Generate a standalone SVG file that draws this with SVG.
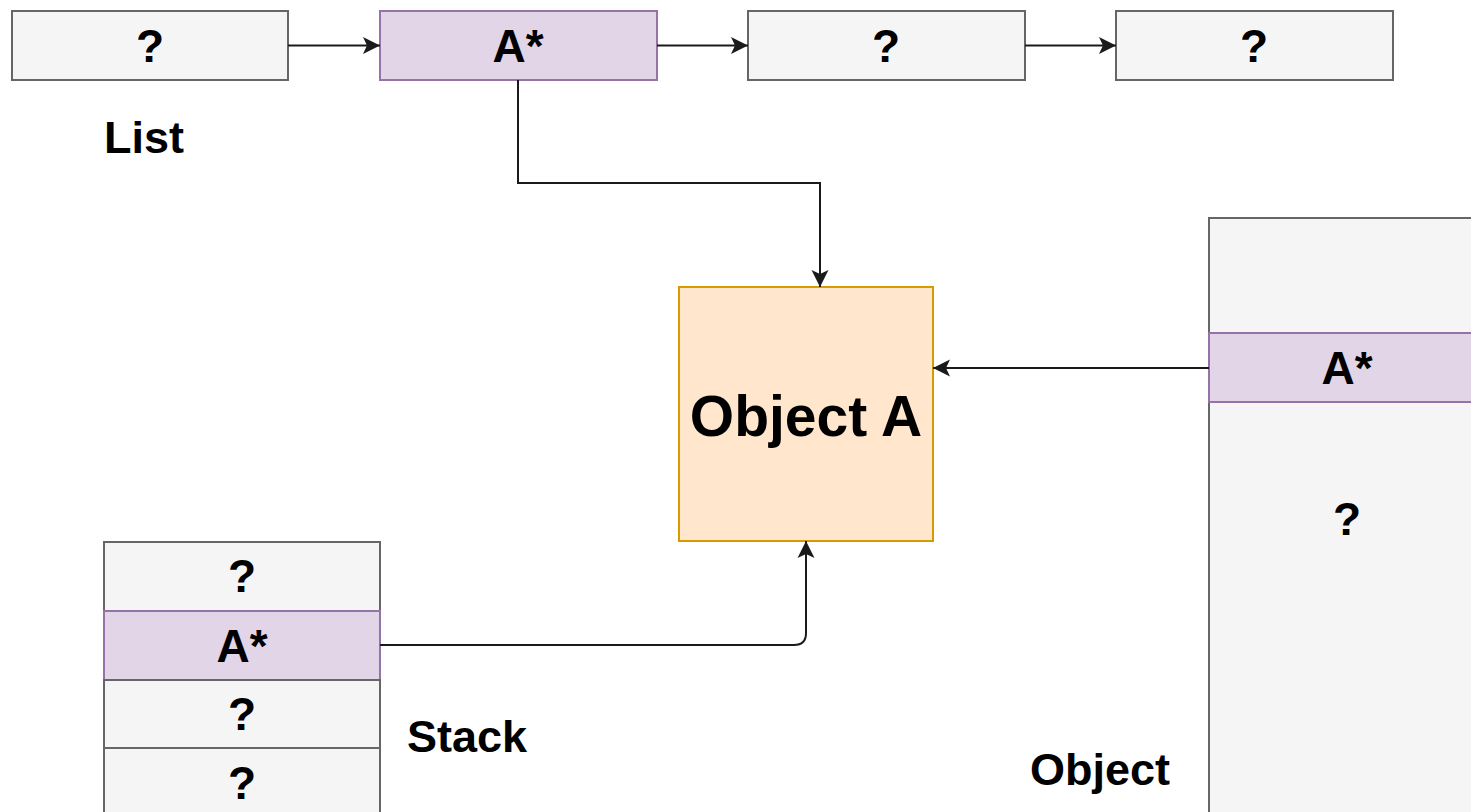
<svg xmlns="http://www.w3.org/2000/svg" width="1471" height="812" viewBox="0 0 1471 812">
<style>
.cell{fill:#f5f5f5;stroke:#666666;stroke-width:2}
.ptr{fill:#e1d5e7;stroke:#9673a6;stroke-width:2}
.obj{fill:#ffe6cc;stroke:#d79b00;stroke-width:2}
.t{font-family:"Liberation Sans",Arial,sans-serif;font-weight:bold;font-size:46px;fill:#000;text-anchor:middle}
.lbl{font-family:"Liberation Sans",Arial,sans-serif;font-weight:bold;font-size:45px;fill:#000}
.big{font-family:"Liberation Sans",Arial,sans-serif;font-weight:bold;font-size:57px;fill:#000;text-anchor:middle}
.edge{fill:none;stroke:#1a1a1a;stroke-width:2;marker-end:url(#arr)}
</style>
<defs>
<marker id="arr" markerUnits="userSpaceOnUse" markerWidth="22" markerHeight="22" viewBox="-20 -10 22 20" refX="0" refY="0" orient="auto">
<path d="M0,0 L-17,-8.5 L-13,0 L-17,8.5 Z" fill="#1a1a1a"/>
</marker>
</defs>
<g id="list">
<g id="list1"><rect class="cell" x="12" y="11" width="276" height="69"/><text class="t" x="150" y="62">?</text></g>
<g id="list2"><rect class="ptr" x="380" y="11" width="277" height="69"/><text class="t" x="518" y="62">A*</text></g>
<g id="list3"><rect class="cell" x="748" y="11" width="277" height="69"/><text class="t" x="886" y="62">?</text></g>
<g id="list4"><rect class="cell" x="1116" y="11" width="277" height="69"/><text class="t" x="1254" y="62">?</text></g>
<text id="listLabel" class="lbl" x="104" y="153">List</text>
</g>
<g id="objectA"><rect class="obj" x="679" y="287" width="254" height="254"/><text class="big" x="806" y="436">Object A</text></g>
<g id="object">
<rect class="cell" x="1209" y="218" width="276" height="700"/>
<g id="objPtr"><rect class="ptr" x="1209" y="333" width="276" height="69"/><text class="t" x="1347" y="384">A*</text></g>
<text class="t" x="1347" y="535">?</text>
<text id="objectLabel" class="lbl" x="1030" y="785">Object</text>
</g>
<g id="stack">
<g id="s1"><rect class="cell" x="104" y="542" width="276" height="69"/><text class="t" x="242" y="592">?</text></g>
<g id="s2"><rect class="ptr" x="104" y="611" width="276" height="69"/><text class="t" x="242" y="662">A*</text></g>
<g id="s3"><rect class="cell" x="104" y="680" width="276" height="68"/><text class="t" x="242" y="730">?</text></g>
<g id="s4"><rect class="cell" x="104" y="748" width="276" height="80"/><text class="t" x="242" y="799">?</text></g>
<text id="stackLabel" class="lbl" x="407" y="752">Stack</text>
</g>
<g id="connectors">
<path class="edge" d="M288,45.5 H380"/>
<path class="edge" d="M657,45.5 H748"/>
<path class="edge" d="M1025,45.5 H1116"/>
<path class="edge" d="M518,80 V183 H820 V287"/>
<path class="edge" d="M1209,368 H933"/>
<path class="edge" d="M380,645 H794 Q806,645 806,633 V541"/>
</g>
</svg>
